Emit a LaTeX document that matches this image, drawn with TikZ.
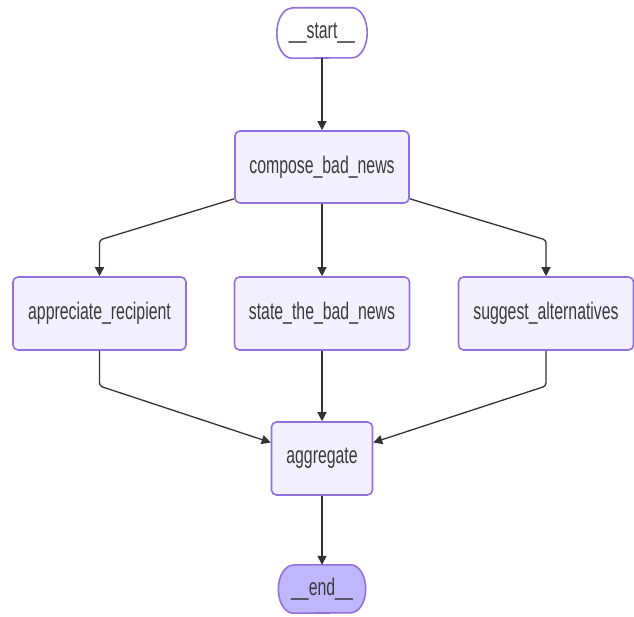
\documentclass[tikz,border=0pt]{standalone}
\usepackage{fontspec}
\usetikzlibrary{arrows.meta,calc,backgrounds}
\newfontfamily\lbl{Liberation Sans}[FakeStretch=0.66]
\definecolor{nodefill}{HTML}{F2F0FF}
\definecolor{nodeline}{HTML}{9370DB}
\definecolor{endfill}{HTML}{BFB6FC}
\definecolor{ink}{HTML}{3A3A3A}
\definecolor{wire}{HTML}{333333}

\begin{document}
\begin{tikzpicture}[x=1pt,y=1pt,
  lbltext/.style={font=\lbl\fontsize{24}{28}\selectfont, text=ink, inner sep=0pt},
  task/.style={lbltext, draw=nodeline, fill=nodefill, line width=1.6pt,
    rounded corners=5pt, minimum height=73pt},
  pill/.style={lbltext, minimum width=#1pt},
  pillshape/.style={draw=nodeline, line width=1.6pt},
  flow/.style={draw=wire, line width=1.3pt, rounded corners=3pt,
    -{Triangle[length=9pt,width=9pt]}}]

\useasboundingbox (0,0) rectangle (634,-617);

% terminal nodes
\node[pill=90, minimum height=50pt] (start) at (322,-33) {\_\_start\_\_};
\node[pill=87, minimum height=48pt] (end) at (322,-589) {\_\_end\_\_};

% task nodes
\node[task, minimum width=174pt, minimum height=72pt] (compose) at (322,-167) {compose\_bad\_news};
\node[task, minimum width=173pt] (appreciate) at (99.5,-313.5) {appreciate\_recipient};
\node[task, minimum width=175pt] (state) at (322,-313.5) {state\_the\_bad\_news};
\node[task, minimum width=175pt] (suggest) at (546,-313.5) {suggest\_alternatives};
\node[task, minimum width=101pt] (aggregate) at (322,-458.5) {aggregate};

% stadium outlines behind the terminal labels
\begin{scope}[on background layer]
  \draw[pillshape, fill=white]
    ($(start.north west)+(15,0)$) -- ($(start.north east)+(-15,0)$)
    arc[start angle=90, end angle=-90, x radius=15, y radius=25]
    -- ($(start.south west)+(15,0)$)
    arc[start angle=270, end angle=90, x radius=15, y radius=25] -- cycle;
  \draw[pillshape, fill=endfill]
    ($(end.north west)+(15,0)$) -- ($(end.north east)+(-15,0)$)
    arc[start angle=90, end angle=-90, x radius=15, y radius=24]
    -- ($(end.south west)+(15,0)$)
    arc[start angle=270, end angle=90, x radius=15, y radius=24] -- cycle;
\end{scope}

% routing rows
\coordinate (splitrow) at (0,-240);
\coordinate (joinrow) at (0,-386);

% connectors
\draw[flow] (start.south) -- (compose.north);
\draw[flow] ($(compose.south west)+(0,5)$) -- (appreciate.north |- splitrow) -- (appreciate.north);
\draw[flow] (compose.south) -- (state.north);
\draw[flow] ($(compose.south east)+(0,5)$) -- (suggest.north |- splitrow) -- (suggest.north);
\draw[flow] (appreciate.south) -- (appreciate.south |- joinrow) -- ($(aggregate.west)+(0,16)$);
\draw[flow] (state.south) -- (aggregate.north);
\draw[flow] (suggest.south) -- (suggest.south |- joinrow) -- ($(aggregate.east)+(0,16)$);
\draw[flow] (aggregate.south) -- (end.north);
\end{tikzpicture}
\end{document}
